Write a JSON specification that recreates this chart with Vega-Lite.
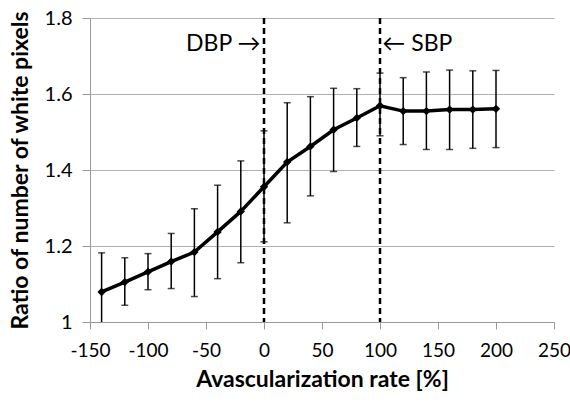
{
  "$schema": "https://vega.github.io/schema/vega-lite/v6.json",
  "width": 464,
  "height": 304,
  "padding": {"left": 9, "top": 8, "right": 0, "bottom": 5},
  "background": "white",
  "config": {
    "view": {"stroke": null},
    "font": "Lato",
    "axis": {"labelFont": "Lato", "titleFont": "Lato", "labelColor": "black", "titleColor": "black", "labelOverlap": false, "labelFlush": false}
  },
  "datasets": {
    "pts": [
      {"x": -140, "y": 1.079, "lo": 0.97, "hi": 1.182},
      {"x": -120, "y": 1.105, "lo": 1.044, "hi": 1.169},
      {"x": -100, "y": 1.132, "lo": 1.085, "hi": 1.180},
      {"x": -80, "y": 1.159, "lo": 1.088, "hi": 1.233},
      {"x": -60, "y": 1.184, "lo": 1.067, "hi": 1.298},
      {"x": -40, "y": 1.237, "lo": 1.114, "hi": 1.360},
      {"x": -20, "y": 1.291, "lo": 1.156, "hi": 1.424},
      {"x": 0, "y": 1.356, "lo": 1.211, "hi": 1.503},
      {"x": 20, "y": 1.421, "lo": 1.261, "hi": 1.577},
      {"x": 40, "y": 1.462, "lo": 1.332, "hi": 1.593},
      {"x": 60, "y": 1.506, "lo": 1.396, "hi": 1.615},
      {"x": 80, "y": 1.537, "lo": 1.462, "hi": 1.614},
      {"x": 100, "y": 1.569, "lo": 1.490, "hi": 1.655},
      {"x": 120, "y": 1.555, "lo": 1.467, "hi": 1.643},
      {"x": 140, "y": 1.555, "lo": 1.454, "hi": 1.658},
      {"x": 160, "y": 1.559, "lo": 1.454, "hi": 1.663},
      {"x": 180, "y": 1.559, "lo": 1.457, "hi": 1.661},
      {"x": 200, "y": 1.561, "lo": 1.459, "hi": 1.662}
    ],
    "marks": [
      {"x": 0, "label": "DBP →", "ty": 1.732, "tx": -3, "side": "right"},
      {"x": 100, "label": "← SBP", "ty": 1.732, "tx": 102, "side": "left"}
    ]
  },
  "layer": [
    {
      "data": {"name": "pts"},
      "mark": {"type": "rule", "color": "black", "strokeWidth": 1.5, "clip": true},
      "encoding": {
        "x": {"field": "x", "type": "quantitative",
              "scale": {"domain": [-150, 250], "nice": false},
              "axis": {"values": [-150, -100, -50, 0, 50, 100, 150, 200, 250], "grid": false,
                       "labelExpr": "'' + datum.value",
                       "title": "Avascularization rate [%]", "titleFontSize": 23, "titleFontWeight": "bold",
                       "labelFontSize": 19, "tickSize": 7, "domainColor": "#999", "tickColor": "#999",
                       "titlePadding": 8, "labelPadding": 12}},
        "y": {"field": "lo", "type": "quantitative",
              "scale": {"domain": [1, 1.8], "nice": false, "zero": false},
              "axis": {"values": [1, 1.2, 1.4, 1.6, 1.8], "grid": true, "gridColor": "#b0b0b0",
                       "labelExpr": "datum.value == 1 ? '1' : format(datum.value, '.1f')",
                       "title": "Ratio of number of white pixels", "titleFontSize": 23, "titleFontWeight": "bold",
                       "labelFontSize": 20, "tickSize": 8, "domainColor": "#999", "tickColor": "#999",
                       "titlePadding": 12, "labelPadding": 10}},
        "y2": {"field": "hi"}
      }
    },
    {
      "data": {"name": "pts"},
      "mark": {"type": "tick", "orient": "horizontal", "color": "black", "size": 7, "thickness": 1.5},
      "encoding": {
        "x": {"field": "x", "type": "quantitative"},
        "y": {"field": "hi", "type": "quantitative"}
      }
    },
    {
      "data": {"name": "pts"},
      "transform": [{"filter": "datum.lo >= 1"}],
      "mark": {"type": "tick", "orient": "horizontal", "color": "black", "size": 7, "thickness": 1.5},
      "encoding": {
        "x": {"field": "x", "type": "quantitative"},
        "y": {"field": "lo", "type": "quantitative"}
      }
    },
    {
      "data": {"name": "marks"},
      "mark": {"type": "rule", "color": "black", "strokeWidth": 2.5, "strokeDash": [6, 4]},
      "encoding": {
        "x": {"field": "x", "type": "quantitative"}
      }
    },
    {
      "data": {"name": "pts"},
      "mark": {"type": "line", "color": "black", "strokeWidth": 3.5},
      "encoding": {
        "x": {"field": "x", "type": "quantitative"},
        "y": {"field": "y", "type": "quantitative"}
      }
    },
    {
      "data": {"name": "pts"},
      "mark": {"type": "point", "shape": "diamond", "filled": true, "color": "black", "size": 70, "opacity": 1},
      "encoding": {
        "x": {"field": "x", "type": "quantitative"},
        "y": {"field": "y", "type": "quantitative"}
      }
    },
    {
      "data": {"name": "marks"},
      "transform": [{"filter": "datum.side == 'right'"}],
      "mark": {"type": "text", "align": "right", "baseline": "middle", "fontSize": 23, "color": "black", "font": "Lato"},
      "encoding": {
        "x": {"field": "tx", "type": "quantitative"},
        "y": {"field": "ty", "type": "quantitative"},
        "text": {"field": "label"}
      }
    },
    {
      "data": {"name": "marks"},
      "transform": [{"filter": "datum.side == 'left'"}],
      "mark": {"type": "text", "align": "left", "baseline": "middle", "fontSize": 23, "color": "black", "font": "Lato"},
      "encoding": {
        "x": {"field": "tx", "type": "quantitative"},
        "y": {"field": "ty", "type": "quantitative"},
        "text": {"field": "label"}
      }
    }
  ]
}
